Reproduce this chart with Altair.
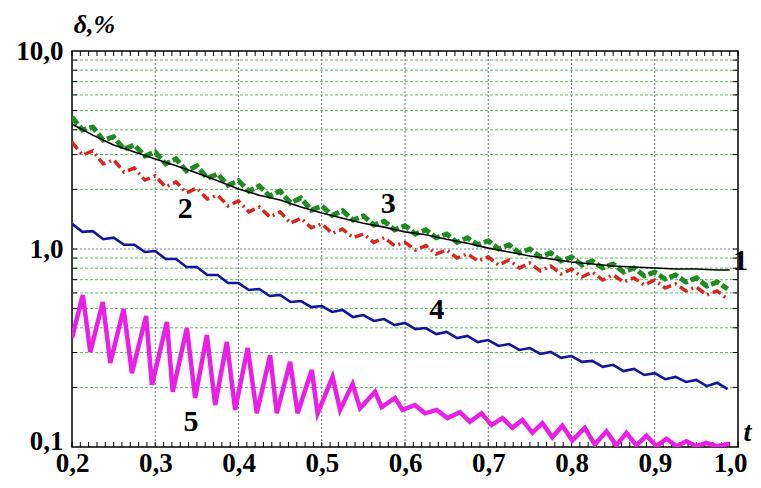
import altair as alt
import pandas as pd

# ---------------- data ----------------
# half-period grid (t) shared by curves 2, 3, 4
t_half = [round(0.2 + 0.0125 * i, 4) for i in range(64)]

# curve 3 (green, dashed)
d3 = [4.64, 3.99, 4.13, 3.55, 3.68, 3.20, 3.35, 2.95, 3.09, 2.69, 2.85, 2.48, 2.63, 2.28, 2.39, 2.10,
      2.21, 1.96, 2.08, 1.85, 1.96, 1.71, 1.81, 1.57, 1.65, 1.48, 1.56, 1.40, 1.47, 1.32, 1.38, 1.25,
      1.31, 1.19, 1.25, 1.14, 1.19, 1.08, 1.14, 1.05, 1.10, 1.00, 1.05, 0.955, 1.00, 0.911, 0.955, 0.870,
      0.911, 0.830, 0.870, 0.802, 0.840, 0.765, 0.802, 0.731, 0.765, 0.705, 0.739, 0.681, 0.714, 0.650, 0.681, 0.628]

# curve 2 (red, dash-dot)
d2 = [3.47, 2.98, 3.13, 2.69, 2.82, 2.45, 2.56, 2.23, 2.34, 2.06, 2.18, 1.92, 2.03, 1.79, 1.87, 1.65,
      1.75, 1.54, 1.63, 1.45, 1.54, 1.35, 1.43, 1.28, 1.34, 1.20, 1.26, 1.14, 1.19, 1.08, 1.14, 1.04,
      1.08, 0.988, 1.04, 0.944, 0.988, 0.901, 0.944, 0.870, 0.911, 0.830, 0.880, 0.802, 0.850, 0.774, 0.821, 0.748,
      0.792, 0.722, 0.765, 0.697, 0.739, 0.681, 0.714, 0.658, 0.697, 0.635, 0.666, 0.614, 0.643, 0.586, 0.614, 0.559]

# curve 4 (blue)
d4 = [1.34, 1.22, 1.23, 1.12, 1.14, 1.05, 1.05, 0.966, 0.977, 0.890, 0.890, 0.811, 0.811, 0.739, 0.739, 0.673,
      0.673, 0.621, 0.628, 0.579, 0.586, 0.540, 0.546, 0.509, 0.515, 0.481, 0.492, 0.453, 0.464, 0.433, 0.443, 0.413,
      0.423, 0.394, 0.399, 0.372, 0.381, 0.355, 0.364, 0.339, 0.347, 0.324, 0.331, 0.309, 0.316, 0.295, 0.302, 0.282,
      0.288, 0.269, 0.272, 0.254, 0.260, 0.242, 0.248, 0.231, 0.236, 0.220, 0.226, 0.213, 0.218, 0.203, 0.211, 0.196]

# curve 1 (black)
t1 = [0.200, 0.225, 0.250, 0.275, 0.300, 0.325, 0.350, 0.375, 0.400, 0.425, 0.450, 0.475, 0.500, 0.525, 0.550,
      0.575, 0.600, 0.625, 0.650, 0.675, 0.700, 0.725, 0.750, 0.775, 0.800, 0.825, 0.850, 0.875, 0.900, 0.925,
      0.950, 0.975, 0.990]
d1 = [4.28, 3.76, 3.35, 3.09, 2.85, 2.63, 2.42, 2.21, 2.01, 1.87, 1.77, 1.63, 1.52, 1.43, 1.35,
      1.29, 1.22, 1.18, 1.12, 1.07, 1.01, 0.966, 0.922, 0.890, 0.860, 0.840, 0.821, 0.811, 0.802, 0.792,
      0.792, 0.783, 0.783]

# curve 5 (magenta)
t5 = [0.200, 0.213, 0.222, 0.237, 0.246, 0.262, 0.272, 0.289, 0.296, 0.314, 0.321, 0.338, 0.348, 0.362, 0.372,
      0.386, 0.396, 0.411, 0.422, 0.438, 0.446, 0.462, 0.471, 0.488, 0.495, 0.513, 0.522, 0.537, 0.546, 0.564,
      0.572, 0.588, 0.597, 0.612, 0.624, 0.638, 0.651, 0.666, 0.678, 0.692, 0.704, 0.717, 0.729, 0.741, 0.753,
      0.765, 0.777, 0.789, 0.801, 0.816, 0.828, 0.842, 0.854, 0.866, 0.878, 0.890, 0.902, 0.914, 0.926, 0.938,
      0.950, 0.962, 0.974, 0.990]
d5 = [0.355, 0.586, 0.302, 0.540, 0.266, 0.498, 0.236, 0.459, 0.206, 0.428, 0.190, 0.399, 0.177, 0.368, 0.163,
      0.339, 0.154, 0.316, 0.148, 0.291, 0.148, 0.269, 0.148, 0.245, 0.148, 0.226, 0.154, 0.208, 0.157, 0.190,
      0.159, 0.177, 0.154, 0.163, 0.148, 0.154, 0.140, 0.150, 0.134, 0.148, 0.129, 0.140, 0.125, 0.137, 0.118,
      0.132, 0.112, 0.128, 0.108, 0.125, 0.103, 0.120, 0.102, 0.118, 0.102, 0.114, 0.101, 0.110, 0.101, 0.107,
      0.101, 0.105, 0.101, 0.104]

# curve labels
lab_text = ["1", "2", "3", "4", "5"]
lab_t = [1.003, 0.336, 0.580, 0.638, 0.343]
lab_v = [0.870, 1.59, 1.69, 0.492, 0.134]

# ticks and grid
x_tick_labels = [0.2, 0.3, 0.4, 0.5, 0.6, 0.7, 0.8, 0.9, 1.0]
y_tick_labels = [0.1, 1.0, 10.0]
x_minor = [round(0.2 + 0.01 * i, 2) for i in range(81)]
x_grid = [0.3, 0.4, 0.5, 0.6, 0.7, 0.8, 0.9]
y_minor = [0.2, 0.3, 0.4, 0.5, 0.6, 0.7, 0.8, 0.9, 2, 3, 4, 5, 6, 7, 8, 9]
y_major = [1.0]

# ---------------- chart ----------------
W, H = 666, 396
FONT = "Liberation Serif"
xs = alt.Scale(domain=[0.2, 1.0], nice=False, zero=False)
ys = alt.Scale(type="log", domain=[0.1, 10], nice=False)
lab_expr = "replace(format(datum.value, '.1f'), '.', ',')"

x_axis = alt.Axis(
    values=x_tick_labels, labelExpr=lab_expr, ticks=False, domain=False, grid=False,
    labelFont=FONT, labelFontWeight="bold", labelFontSize=27, labelColor="black",
    labelPadding=3, labelFlush=False, labelOverlap=False, labelBound=False,
    labelOffset={"condition": {"test": "datum.value > 0.95", "value": -8}, "value": 0},
    title="t", titleFont=FONT, titleFontStyle="italic", titleFontWeight="bold",
    titleFontSize=28, titleColor="black", titleX=675, titleY=-15,
    titleAlign="center", titleBaseline="middle",
)
y_axis = alt.Axis(
    values=y_tick_labels, labelExpr=lab_expr, ticks=False, domain=False, grid=False,
    labelFont=FONT, labelFontWeight="bold", labelFontSize=27, labelColor="black",
    labelPadding=9, labelOverlap=False,
    labelOffset={"condition": {"test": "datum.value < 0.15", "value": -6}, "value": 0},
    title="δ,%", titleFont=FONT, titleFontStyle="italic", titleFontWeight="bold",
    titleFontSize=26, titleColor="black", titleAngle=0, titleX=22, titleY=-27,
    titleAlign="center", titleBaseline="middle",
)


def X(field="t"):
    return alt.X(f"{field}:Q", scale=xs, axis=x_axis)


def Y(field="v"):
    return alt.Y(f"{field}:Q", scale=ys, axis=y_axis)


grid_minor = alt.Chart(pd.DataFrame({"v": y_minor})).mark_rule(
    color="#5cbf5c", strokeWidth=1, strokeDash=[3, 2]
).encode(y=Y())
grid_major = alt.Chart(pd.DataFrame({"v": y_major})).mark_rule(
    color="#7a7f9a", strokeWidth=1, strokeDash=[2, 2]
).encode(y=Y())
grid_x = alt.Chart(pd.DataFrame({"t": x_grid})).mark_rule(
    color="#6a6f80", strokeWidth=1, strokeDash=[2, 2]
).encode(x=X())

df_xm = pd.DataFrame({"t": x_minor})
tick_bottom = alt.Chart(df_xm).mark_rule(color="black", strokeWidth=1).encode(
    x=X(), y=alt.value(H), y2=alt.value(H - 5))
tick_top = alt.Chart(df_xm).mark_rule(color="black", strokeWidth=1).encode(
    x=X(), y=alt.value(0), y2=alt.value(5))
df_ym = pd.DataFrame({"v": y_minor + y_major})
tick_left = alt.Chart(df_ym).mark_rule(color="black", strokeWidth=1).encode(
    y=Y(), x=alt.value(0), x2=alt.value(5))
tick_right = alt.Chart(df_ym).mark_rule(color="black", strokeWidth=1).encode(
    y=Y(), x=alt.value(W - 5), x2=alt.value(W))

df_half = pd.DataFrame({"t": t_half, "d2": d2, "d3": d3, "d4": d4})

red = alt.Chart(df_half).mark_line(
    color="#d8261e", strokeWidth=3.5, strokeDash=[9, 4, 2, 4], clip=True
).encode(x=X(), y=Y("d2"))
green = alt.Chart(df_half).mark_line(
    color="#1f8a1f", strokeWidth=5, strokeDash=[9, 3], clip=True
).encode(x=X(), y=Y("d3"))
black = alt.Chart(pd.DataFrame({"t": t1, "v": d1})).mark_line(
    color="black", strokeWidth=1.6, clip=True
).encode(x=X(), y=Y())
blue = alt.Chart(df_half).mark_line(
    color="#10169a", strokeWidth=2.6, clip=True
).encode(x=X(), y=Y("d4"))
magenta = alt.Chart(pd.DataFrame({"t": t5, "v": d5})).mark_line(
    color="#ea1fe6", strokeWidth=4.5, clip=True
).encode(x=X(), y=Y())

labels = alt.Chart(pd.DataFrame({"t": lab_t, "v": lab_v, "s": lab_text})).mark_text(
    font=FONT, fontWeight="bold", fontSize=30, color="black", align="center", baseline="middle"
).encode(x=X(), y=Y(), text="s:N")

chart = alt.layer(
    grid_minor, grid_major, grid_x, tick_bottom, tick_top, tick_left, tick_right,
    red, green, black, blue, magenta, labels,
).properties(
    width=W, height=H,
    padding={"left": 64, "top": 43, "right": 15, "bottom": 33},
    autosize=alt.AutoSizeParams(type="none"),
    background="white",
).configure_view(stroke="black", strokeWidth=1.5)

chart.save("out.html", embed_options={"renderer": "svg", "actions": False})
